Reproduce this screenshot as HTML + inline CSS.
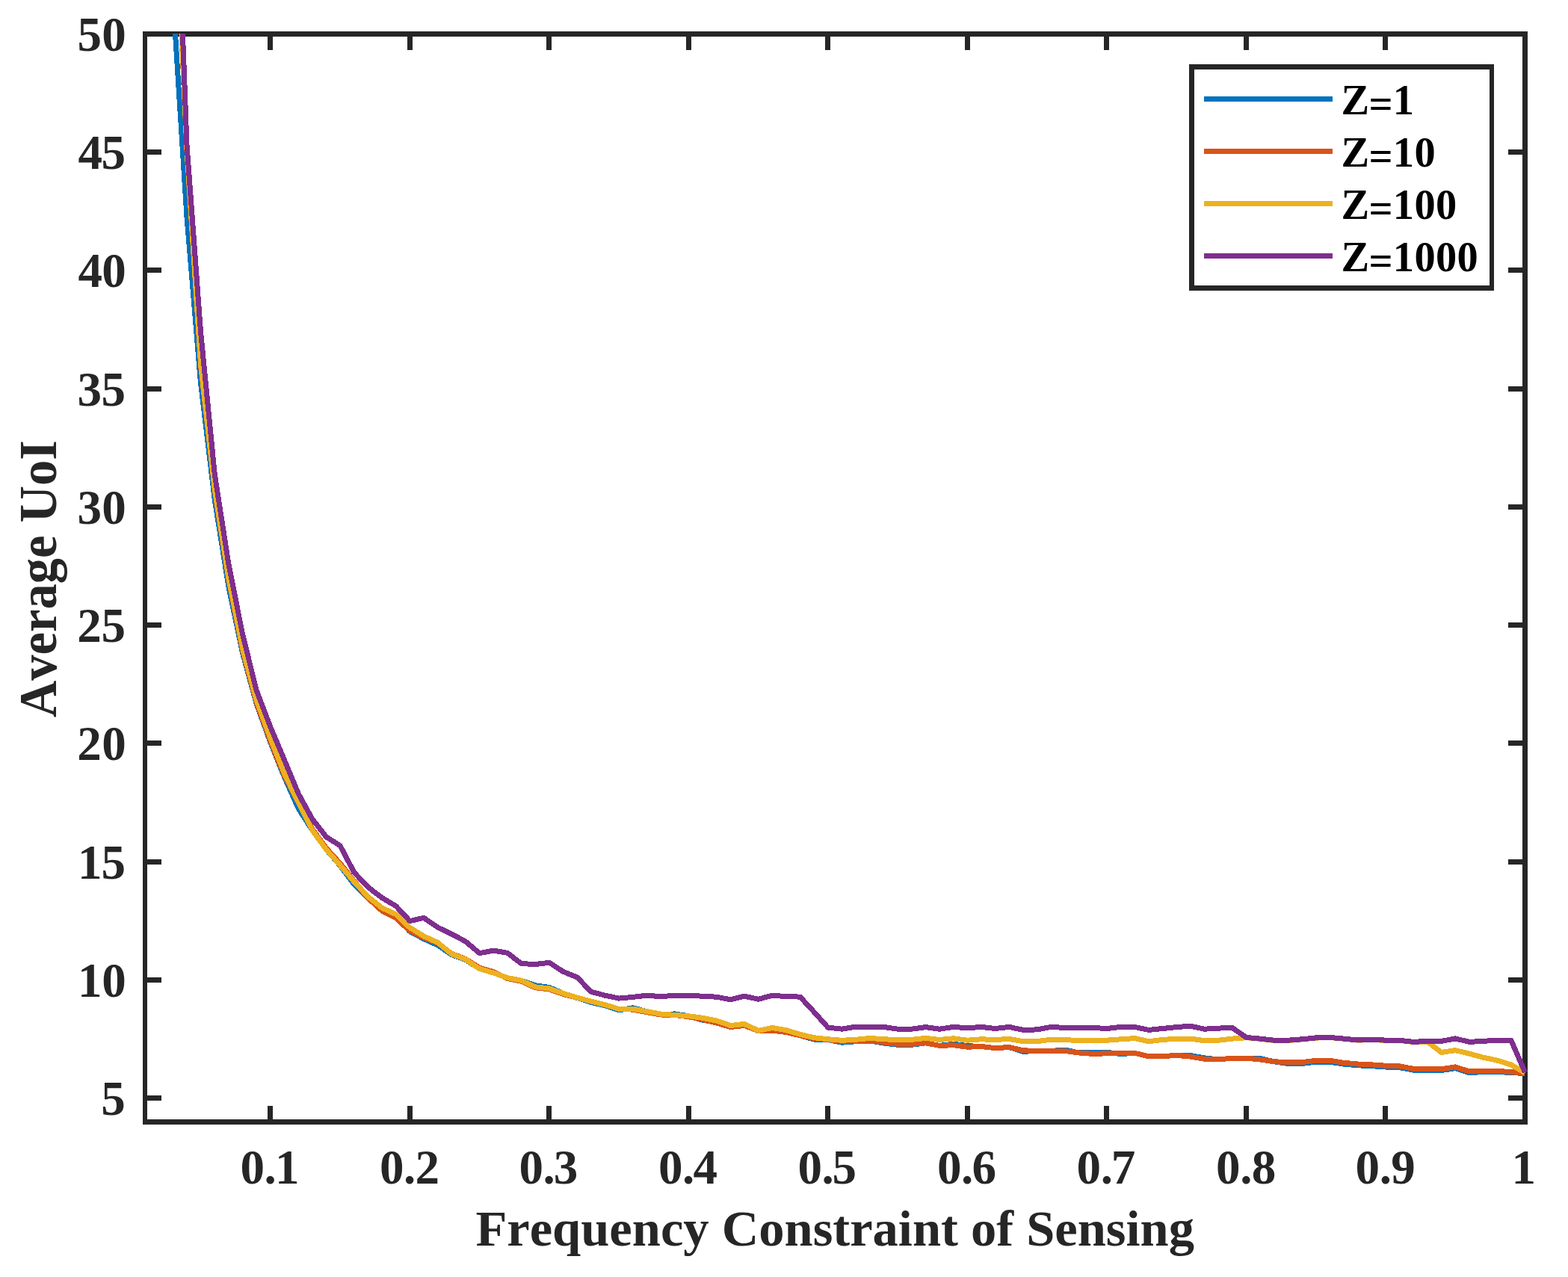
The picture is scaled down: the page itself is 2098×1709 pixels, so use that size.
<!DOCTYPE html>
<html lang="en">
<head>
<meta charset="utf-8">
<title>Average UoI vs Frequency Constraint of Sensing</title>
<style>
html,body{margin:0;padding:0;background:#fff;}
body{width:2098px;height:1709px;overflow:hidden;}
svg{display:block;}
text{font-family:"Liberation Serif",serif;font-weight:bold;}
.tick{font-size:65.1px;fill:#262626;}
.lab{font-size:68.55px;fill:#262626;}
.leg{font-size:56.4px;fill:#000;}
</style>
</head>
<body>
<svg width="2098" height="1709" viewBox="0 0 2098 1709">
<rect x="0" y="0" width="2098" height="1709" fill="#ffffff"/>
<defs><clipPath id="plotclip"><rect x="191" y="45" width="1853" height="1457"/></clipPath></defs>
<g fill="#262626" shape-rendering="crispEdges">
<rect x="191" y="42" width="6" height="1463"/>
<rect x="2037" y="42" width="7" height="1463"/>
<rect x="191" y="42" width="1853" height="7"/>
<rect x="191" y="1498" width="1853" height="7"/>
<rect x="197" y="1466" width="19" height="7"/>
<rect x="2018" y="1466" width="19" height="7"/>
<rect x="197" y="1308" width="19" height="7"/>
<rect x="2018" y="1308" width="19" height="7"/>
<rect x="197" y="1150" width="19" height="7"/>
<rect x="2018" y="1150" width="19" height="7"/>
<rect x="197" y="991" width="19" height="7"/>
<rect x="2018" y="991" width="19" height="7"/>
<rect x="197" y="833" width="19" height="7"/>
<rect x="2018" y="833" width="19" height="7"/>
<rect x="197" y="675" width="19" height="7"/>
<rect x="2018" y="675" width="19" height="7"/>
<rect x="197" y="517" width="19" height="7"/>
<rect x="2018" y="517" width="19" height="7"/>
<rect x="197" y="358" width="19" height="7"/>
<rect x="2018" y="358" width="19" height="7"/>
<rect x="197" y="200" width="19" height="7"/>
<rect x="2018" y="200" width="19" height="7"/>
<rect x="358" y="1480" width="7" height="18"/>
<rect x="358" y="49" width="7" height="18"/>
<rect x="545" y="1480" width="7" height="18"/>
<rect x="545" y="49" width="7" height="18"/>
<rect x="731" y="1480" width="7" height="18"/>
<rect x="731" y="49" width="7" height="18"/>
<rect x="918" y="1480" width="7" height="18"/>
<rect x="918" y="49" width="7" height="18"/>
<rect x="1104" y="1480" width="7" height="18"/>
<rect x="1104" y="49" width="7" height="18"/>
<rect x="1291" y="1480" width="7" height="18"/>
<rect x="1291" y="49" width="7" height="18"/>
<rect x="1477" y="1480" width="7" height="18"/>
<rect x="1477" y="49" width="7" height="18"/>
<rect x="1664" y="1480" width="7" height="18"/>
<rect x="1664" y="49" width="7" height="18"/>
<rect x="1850" y="1480" width="7" height="18"/>
<rect x="1850" y="49" width="7" height="18"/>
</g>
<g class="tick">
<text x="135.2" y="1492.20">5</text>
<text x="104.1 136.2" y="1334.20">10</text>
<text x="104.1 135.5" y="1176.20">15</text>
<text x="103.3 136.2" y="1017.20">20</text>
<text x="103.3 135.5" y="859.20">25</text>
<text x="103.4 136.2" y="701.20">30</text>
<text x="103.4 135.5" y="543.20">35</text>
<text x="104.6 136.2" y="384.20">40</text>
<text x="104.6 135.5" y="226.20">45</text>
<text x="103.5 136.2" y="68.20">50</text>
<text x="321.4 353.6 368.0" y="1583.5">0.1</text>
<text x="507.9 540.1 555.4" y="1583.5">0.2</text>
<text x="694.4 726.6 740.8" y="1583.5">0.3</text>
<text x="880.9 913.1 927.6" y="1583.5">0.4</text>
<text x="1067.4 1099.6 1113.6" y="1583.5">0.5</text>
<text x="1253.9 1286.1 1300.6" y="1583.5">0.6</text>
<text x="1440.5 1472.7 1486.7" y="1583.5">0.7</text>
<text x="1627.0 1659.2 1674.8" y="1583.5">0.8</text>
<text x="1813.5 1845.7 1861.3" y="1583.5">0.9</text>
<text x="2022.5" y="1583.5">1</text>
</g>
<text class="lab" x="1117.2" y="1666.8" text-anchor="middle" style="font-kerning:none">Frequency Constraint of Sensing</text>
<text class="lab" transform="translate(74.9 774.6) rotate(-90) scale(1 1.04)" text-anchor="middle" style="font-kerning:none">Average UoI</text>
<g clip-path="url(#plotclip)" fill="none" stroke-width="7" stroke-linejoin="round" stroke-linecap="butt" shape-rendering="crispEdges">
<path stroke="#0072BD" d="M231.3 -5.4 L250.0 291.0 L268.6 513.5 L287.3 669.0 L305.9 785.6 L324.6 874.0 L343.2 942.0 L361.9 994.0 L380.5 1040.0 L399.2 1082.0 L417.8 1111.0 L436.5 1137.0 L455.1 1158.5 L473.8 1183.5 L492.4 1202.0 L511.1 1218.0 L529.7 1227.0 L548.4 1246.5 L567.0 1256.5 L585.7 1265.0 L604.3 1277.6 L623.0 1284.5 L641.6 1296.5 L660.3 1302.0 L678.9 1308.6 L697.6 1312.2 L716.2 1318.8 L734.9 1321.4 L753.5 1329.4 L772.2 1335.4 L790.8 1341.4 L809.5 1345.7 L828.2 1351.9 L846.8 1348.8 L865.5 1353.7 L884.1 1358.0 L902.8 1356.9 L921.4 1359.8 L940.1 1365.3 L958.7 1368.0 L977.4 1373.5 L996.0 1372.5 L1014.7 1379.6 L1033.3 1379.1 L1052.0 1381.5 L1070.6 1385.8 L1089.3 1391.1 L1107.9 1391.5 L1126.6 1395.2 L1145.2 1393.7 L1163.9 1393.0 L1182.5 1396.1 L1201.2 1398.3 L1219.8 1398.3 L1238.5 1395.8 L1257.1 1399.4 L1275.8 1397.2 L1294.4 1399.7 L1313.1 1400.5 L1331.7 1402.7 L1350.4 1401.5 L1369.0 1407.3 L1387.7 1406.5 L1406.3 1406.5 L1425.0 1405.0 L1443.7 1409.0 L1462.3 1408.9 L1481.0 1408.3 L1499.6 1410.5 L1518.3 1409.4 L1536.9 1413.7 L1555.6 1413.7 L1574.2 1412.3 L1592.9 1412.6 L1611.5 1415.8 L1630.2 1418.0 L1648.8 1416.1 L1667.5 1416.1 L1686.1 1416.5 L1704.8 1420.8 L1723.4 1423.4 L1742.1 1423.4 L1760.7 1421.2 L1779.4 1421.2 L1798.0 1424.1 L1816.7 1425.8 L1835.3 1426.7 L1854.0 1428.0 L1872.6 1428.6 L1891.3 1432.2 L1909.9 1432.5 L1928.6 1432.5 L1947.2 1429.7 L1965.9 1435.7 L1984.5 1434.5 L2003.2 1434.5 L2021.8 1435.5 L2040.5 1436.5"/>
<path stroke="#D95319" d="M231.3 -215.0 L250.0 203.0 L268.6 490.0 L287.3 657.0 L305.9 776.0 L324.6 871.0 L343.2 940.0 L361.9 993.0 L380.5 1038.0 L399.2 1074.0 L417.8 1109.5 L436.5 1135.0 L455.1 1155.5 L473.8 1179.0 L492.4 1202.0 L511.1 1219.0 L529.7 1228.6 L548.4 1246.0 L567.0 1255.0 L585.7 1262.0 L604.3 1276.3 L623.0 1283.5 L641.6 1295.2 L660.3 1300.5 L678.9 1309.6 L697.6 1313.2 L716.2 1321.8 L734.9 1323.9 L753.5 1330.4 L772.2 1335.1 L790.8 1340.1 L809.5 1344.7 L828.2 1350.4 L846.8 1351.1 L865.5 1354.7 L884.1 1358.0 L902.8 1358.4 L921.4 1360.8 L940.1 1364.3 L958.7 1369.0 L977.4 1374.5 L996.0 1372.5 L1014.7 1379.6 L1033.3 1379.1 L1052.0 1381.5 L1070.6 1385.8 L1089.3 1390.1 L1107.9 1391.5 L1126.6 1393.7 L1145.2 1393.7 L1163.9 1393.0 L1182.5 1395.1 L1201.2 1397.3 L1219.8 1397.3 L1238.5 1395.8 L1257.1 1399.4 L1275.8 1398.7 L1294.4 1401.2 L1313.1 1400.5 L1331.7 1402.7 L1350.4 1401.5 L1369.0 1405.8 L1387.7 1406.5 L1406.3 1406.5 L1425.0 1406.5 L1443.7 1409.0 L1462.3 1410.4 L1481.0 1409.8 L1499.6 1409.0 L1518.3 1409.4 L1536.9 1413.7 L1555.6 1413.7 L1574.2 1412.3 L1592.9 1414.1 L1611.5 1417.3 L1630.2 1418.0 L1648.8 1416.1 L1667.5 1416.1 L1686.1 1418.0 L1704.8 1420.8 L1723.4 1421.6 L1742.1 1421.6 L1760.7 1419.4 L1779.4 1419.4 L1798.0 1422.3 L1816.7 1424.0 L1835.3 1424.9 L1854.0 1426.2 L1872.6 1426.8 L1891.3 1430.4 L1909.9 1430.7 L1928.6 1430.7 L1947.2 1427.9 L1965.9 1433.9 L1984.5 1433.5 L2003.2 1433.5 L2021.8 1434.5 L2040.5 1436.5"/>
<path stroke="#EDB120" d="M231.3 -221.0 L250.0 200.0 L268.6 488.0 L287.3 655.0 L305.9 774.0 L324.6 868.0 L343.2 937.0 L361.9 988.0 L380.5 1035.0 L399.2 1074.0 L417.8 1111.0 L436.5 1137.0 L455.1 1158.0 L473.8 1180.0 L492.4 1200.0 L511.1 1215.0 L529.7 1223.6 L548.4 1241.4 L567.0 1252.9 L585.7 1261.4 L604.3 1276.8 L623.0 1284.0 L641.6 1296.5 L660.3 1302.0 L678.9 1308.6 L697.6 1312.2 L716.2 1320.8 L734.9 1322.9 L753.5 1329.4 L772.2 1335.1 L790.8 1340.1 L809.5 1344.7 L828.2 1350.4 L846.8 1350.1 L865.5 1353.7 L884.1 1357.0 L902.8 1358.4 L921.4 1359.8 L940.1 1362.3 L958.7 1366.0 L977.4 1372.5 L996.0 1370.4 L1014.7 1379.4 L1033.3 1375.5 L1052.0 1378.7 L1070.6 1384.4 L1089.3 1388.7 L1107.9 1390.8 L1126.6 1392.3 L1145.2 1391.3 L1163.9 1389.4 L1182.5 1390.8 L1201.2 1391.5 L1219.8 1391.3 L1238.5 1389.4 L1257.1 1391.5 L1275.8 1389.8 L1294.4 1392.2 L1313.1 1390.8 L1331.7 1391.5 L1350.4 1390.4 L1369.0 1393.7 L1387.7 1393.7 L1406.3 1391.1 L1425.0 1391.5 L1443.7 1392.7 L1462.3 1393.0 L1481.0 1392.2 L1499.6 1390.8 L1518.3 1389.6 L1536.9 1393.7 L1555.6 1391.5 L1574.2 1390.1 L1592.9 1390.1 L1611.5 1392.7 L1630.2 1392.2 L1648.8 1390.1 L1667.5 1388.7 L1686.1 1390.4 L1704.8 1392.6 L1723.4 1392.6 L1742.1 1391.0 L1760.7 1389.1 L1779.4 1388.6 L1798.0 1390.3 L1816.7 1392.2 L1835.3 1391.6 L1854.0 1392.3 L1872.6 1392.5 L1891.3 1394.6 L1909.9 1394.0 L1928.6 1408.5 L1947.2 1405.6 L1965.9 1410.1 L1984.5 1415.2 L2003.2 1419.1 L2021.8 1424.9 L2040.5 1435.8"/>
<path stroke="#7E2F8E" d="M231.3 -305.7 L250.0 194.0 L268.6 445.0 L287.3 635.0 L305.9 755.0 L324.6 849.0 L343.2 924.0 L361.9 973.0 L380.5 1017.0 L399.2 1062.0 L417.8 1096.0 L436.5 1120.0 L455.1 1131.8 L473.8 1167.5 L492.4 1187.2 L511.1 1201.5 L529.7 1212.5 L548.4 1232.6 L567.0 1228.3 L585.7 1241.1 L604.3 1250.0 L623.0 1260.0 L641.6 1275.7 L660.3 1272.1 L678.9 1275.3 L697.6 1289.6 L716.2 1290.5 L734.9 1288.3 L753.5 1300.3 L772.2 1307.9 L790.8 1327.2 L809.5 1332.2 L828.2 1336.1 L846.8 1334.4 L865.5 1332.2 L884.1 1333.7 L902.8 1332.2 L921.4 1332.2 L940.1 1333.2 L958.7 1334.2 L977.4 1337.8 L996.0 1333.2 L1014.7 1337.2 L1033.3 1332.2 L1052.0 1333.6 L1070.6 1334.1 L1089.3 1354.4 L1107.9 1375.1 L1126.6 1377.2 L1145.2 1374.1 L1163.9 1374.1 L1182.5 1374.4 L1201.2 1377.2 L1219.8 1377.2 L1238.5 1374.6 L1257.1 1377.2 L1275.8 1374.4 L1294.4 1375.8 L1313.1 1374.4 L1331.7 1376.5 L1350.4 1374.4 L1369.0 1378.4 L1387.7 1377.9 L1406.3 1374.4 L1425.0 1375.5 L1443.7 1375.8 L1462.3 1375.5 L1481.0 1376.5 L1499.6 1374.4 L1518.3 1374.4 L1536.9 1378.4 L1555.6 1376.5 L1574.2 1374.6 L1592.9 1373.2 L1611.5 1377.2 L1630.2 1376.1 L1648.8 1375.5 L1667.5 1388.4 L1686.1 1390.1 L1704.8 1392.2 L1723.4 1392.2 L1742.1 1390.8 L1760.7 1388.9 L1779.4 1388.4 L1798.0 1390.1 L1816.7 1392.0 L1835.3 1391.4 L1854.0 1392.1 L1872.6 1392.3 L1891.3 1394.4 L1909.9 1393.4 L1928.6 1393.4 L1947.2 1389.9 L1965.9 1394.4 L1984.5 1393.4 L2003.2 1392.1 L2021.8 1392.1 L2040.5 1435.2"/>
</g>
<g fill="#262626" shape-rendering="crispEdges">
<rect x="1591" y="86" width="408" height="303"/>
</g>
<rect x="1598" y="93" width="395" height="289" fill="#ffffff" shape-rendering="crispEdges"/>
<rect x="1611" y="129" width="172" height="7" fill="#0072BD" shape-rendering="crispEdges"/>
<text class="leg" x="1794.6 1831.5 1863.8" y="152.9 157.6 152.9">Z=1</text>
<rect x="1611" y="199" width="172" height="7" fill="#D95319" shape-rendering="crispEdges"/>
<text class="leg" x="1794.6 1831.5 1863.8 1892.5" y="222.9 227.6 222.9 222.9">Z=10</text>
<rect x="1611" y="269" width="172" height="7" fill="#EDB120" shape-rendering="crispEdges"/>
<text class="leg" x="1794.6 1831.5 1863.8 1892.5 1921.0" y="292.9 297.6 292.9 292.9 292.9">Z=100</text>
<rect x="1611" y="339" width="172" height="7" fill="#7E2F8E" shape-rendering="crispEdges"/>
<text class="leg" x="1794.6 1831.5 1863.8 1892.5 1921.0 1949.5" y="362.9 367.6 362.9 362.9 362.9 362.9">Z=1000</text>
</svg>
</body>
</html>
